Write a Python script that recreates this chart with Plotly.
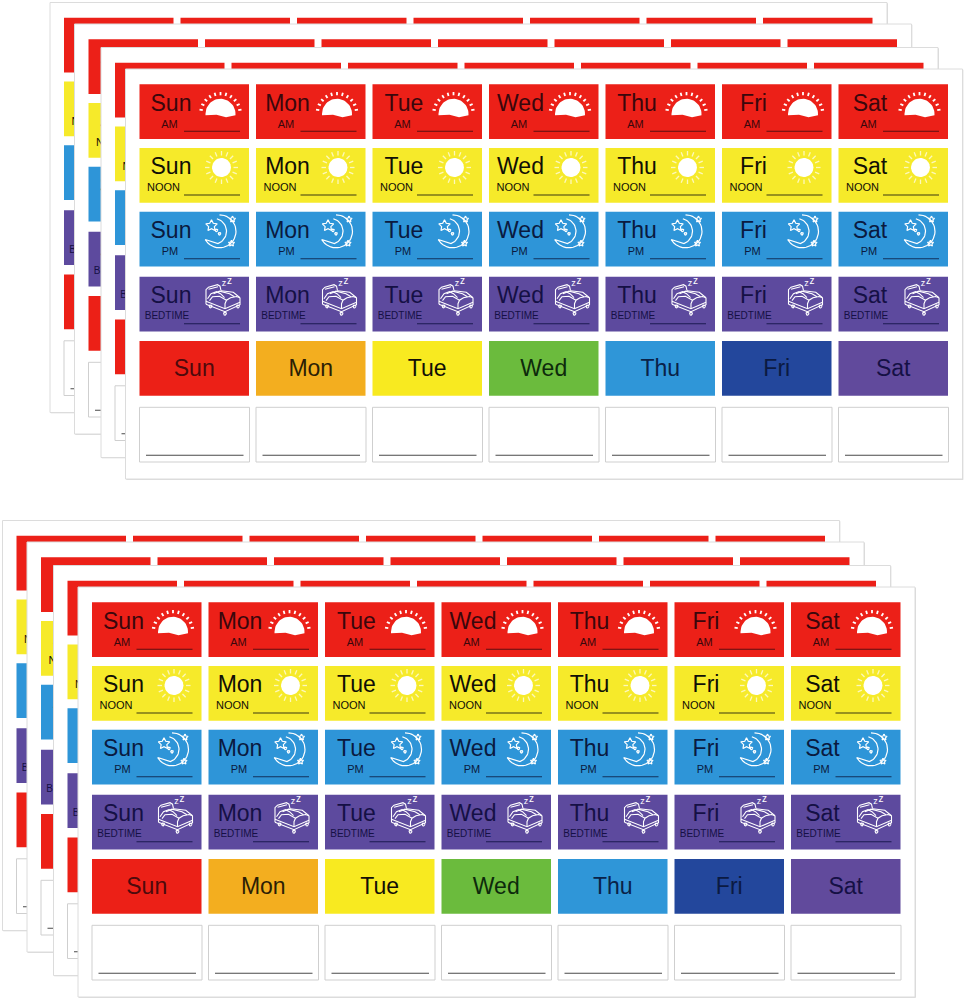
import numpy as np
import plotly.graph_objects as go

# Sticker text
days = ["Sun", "Mon", "Tue", "Wed", "Thu", "Fri", "Sat"]
periods = ["AM", "NOON", "PM", "BEDTIME"]

# Colours of the four dose rows and the plain day row
period_colors = ["#ec2018", "#f6ea2a", "#2e95d8", "#5d4a9e"]
period_text = ["#3a070c", "#100f06", "#0a1a40", "#151045"]
period_line = ["#5c0f10", "#3b3810", "#12325c", "#1d1b52"]
day_colors = ["#ec2017", "#f3ae1f", "#f8ea20", "#6bbb3d", "#2f96d8", "#23479c", "#614a9c"]
day_text = ["#4d0a0c", "#2c1e05", "#120f06", "#0d2a0c", "#0a2248", "#0b1a42", "#151045"]

# Sheet layout, in px (back sheet first)
front_sheets = [(125.5, 69), (78, 587)]
stack_offsets = [(-75.5, -66.5), (-51, -45), (-24.5, -21.5), (0, 0)]
sheet_w, sheet_h = 837, 410
col_x0, col_step = 14, 116.5
row_y = [15.3, 79, 142.7, 207.7, 272, 338.3]
cell_w, cell_h = 109.5, 54.7
label_x = [30, 24, 30.5, 27.5]
label_size = [11, 11, 11, 10]


def rect(x, y, w, h):
    return [x, x + w, x + w, x, x, None], [y, y, y + h, y + h, y, None]


def circle(cx, cy, r, a0=0, a1=360, n=36):
    a = np.radians(np.linspace(a0, a1, n))
    return list(cx + r * np.cos(a)), list(cy + r * np.sin(a))


def star(cx, cy, r):
    a = np.radians(np.arange(-90, 271, 36))
    rr = np.where(np.arange(len(a)) % 2 == 0, r, r * 0.5)
    return list(cx + rr * np.cos(a)), list(cy + rr * np.sin(a))


def join(paths):
    xs, ys = [], []
    for px, py in paths:
        xs += list(px) + [None]
        ys += list(py) + [None]
    return xs, ys


def spokes(cx, cy, r0, r1, angles):
    out = []
    for a in np.radians(angles):
        out.append(([cx + r0 * np.cos(a), cx + r1 * np.cos(a)],
                    [cy + r0 * np.sin(a), cy + r1 * np.sin(a)]))
    return out


def polyline(*pts):
    return [p[0] for p in pts], [p[1] for p in pts]


# Icons, relative to the top left corner of a cell
dome_x, dome_y = circle(81, 29.5, 15, 180, 360, 30)
dome = (dome_x + [96, 86.5, 77, 66], dome_y + [31, 33, 30.5, 31])
sunrise_rays = spokes(81, 29, 18, 21.3, np.arange(-170, -9, 16))
noon_disc = circle(82, 19.5, 9.5)
noon_rays = spokes(82, 19.5, 12, 16.5, np.arange(0, 360, 22.5))

moon_outer_x, moon_outer_y = circle(80, 19.6, 16.5, -90, 150, 30)
moon_inner_x, moon_inner_y = circle(74, 19.6, 13, 70, -75, 24)
moon_lines = [(moon_outer_x + moon_inner_x, moon_outer_y + moon_inner_y),
              star(72, 14, 6), star(93, 7.6, 3.2), star(92, 31.7, 3.2),
              circle(77, 18.6, 1.3, n=10), circle(80, 22, 1.3, n=10)]

bed_lines = [
    polyline((66.5, 27.6), (66.5, 13), (69, 10.5), (78, 8), (80.5, 9.5), (81.5, 14)),
    polyline((69, 12.5), (78.5, 10)),
    polyline((66.5, 24.5), (85.5, 32), (100.5, 25.5)),
    polyline((66.5, 27.6), (85.5, 35), (100.5, 28), (100.5, 21)),
    polyline((85.5, 32), (85.5, 27), (87, 23.5), (91, 21), (97, 19.8), (100.5, 21)),
    polyline((81.5, 14), (93.8, 15.6), (100.5, 21)),
    polyline((68, 22), (71.5, 17), (77, 15), (81, 17), (85, 21)),
    polyline((70, 24), (73, 20), (80, 19.5), (87, 23.5)),
    polyline((74, 17), (80, 14.5), (90, 17), (95, 20)),
    circle(71, 29.6, 1.5, n=10), circle(85.5, 37, 1.5, n=10), circle(98.5, 29.8, 1.5, n=10),
]


def shifted(paths, ox, oy):
    xs, ys = join(paths)
    return ([x + ox if x is not None else None for x in xs],
            [y + oy if y is not None else None for y in ys])


fig = go.Figure()


def add_fill(xs, ys, color, line_color=None, line_width=0):
    fig.add_trace(go.Scatter(x=xs, y=ys, mode="lines", fill="toself", fillcolor=color,
                             line=dict(color=line_color or color, width=line_width),
                             hoverinfo="skip", showlegend=False))


def add_line(xs, ys, color, width):
    fig.add_trace(go.Scatter(x=xs, y=ys, mode="lines", line=dict(color=color, width=width),
                             hoverinfo="skip", showlegend=False))


def add_text(xs, ys, labels, size, colors):
    fig.add_trace(go.Scatter(x=xs, y=ys, mode="text", text=labels, textposition="middle center",
                             textfont=dict(family="Liberation Sans", size=size, color=colors),
                             hoverinfo="skip", showlegend=False))


def draw_sheet(sx, sy, front):
    # soft edge under the sheet, then the paper
    px, py = rect(sx + 0.8, sy + 0.8, sheet_w, sheet_h)
    add_fill(px, py, "#d2d2d2")
    px, py = rect(sx, sy, sheet_w, sheet_h)
    add_fill(px, py, "#ffffff", "#dcdcdc", 1)

    cols = [sx + col_x0 + i * col_step for i in range(len(days))]
    # on a back sheet only the first column of text peeks out past the next sheet
    text_cols = cols if front else cols[:1]
    text_days = days if front else days[:1]

    for r, period in enumerate(periods):
        top = sy + row_y[r]
        paths = [rect(cx, top, cell_w, cell_h) for cx in cols]
        xs, ys = join([(p[0][:-1], p[1][:-1]) for p in paths])
        add_fill(xs, ys, period_colors[r])

        rule = [([cx + 44.5, cx + 100.5], [top + 47, top + 47]) for cx in text_cols]
        xs, ys = join(rule)
        add_line(xs, ys, period_line[r], 1.1)

        add_text([cx + 31.5 for cx in text_cols], [top + 20.5 for cx in text_cols], text_days, 23, period_text[r])
        label_y = top + (39.8 if period == "BEDTIME" else 40.5)
        add_text([cx + label_x[r] for cx in text_cols], [label_y for cx in text_cols],
                 [period] * len(text_cols), label_size[r], period_text[r])

        if not front:
            continue
        for cx in cols:
            if r == 0:
                xs, ys = shifted([dome], cx, top)
                add_fill(xs, ys, "#ffffff")
                xs, ys = shifted(sunrise_rays, cx, top)
                add_line(xs, ys, "#ffffff", 1.8)
            elif r == 1:
                xs, ys = shifted([noon_disc], cx, top)
                add_fill(xs, ys, "#ffffff")
                xs, ys = shifted(noon_rays, cx, top)
                add_line(xs, ys, "#fdf8bc", 1.3)
            elif r == 2:
                xs, ys = shifted(moon_lines, cx, top)
                add_line(xs, ys, "#ffffff", 1.2)
            else:
                xs, ys = shifted(bed_lines, cx, top)
                add_line(xs, ys, "#ffffff", 1.1)
        if r == 3:
            add_text([cx + 84.5 for cx in cols], [top + 7 for cx in cols], ["z"] * len(cols), 9, "#ffffff")
            add_text([cx + 90 for cx in cols], [top + 4.5 for cx in cols], ["z"] * len(cols), 10, "#ffffff")

    # plain day labels
    top = sy + row_y[4]
    for cx, color in zip(cols, day_colors):
        xs, ys = rect(cx, top, cell_w, cell_h)
        add_fill(xs, ys, color)
    if front:
        add_text([cx + cell_w / 2 for cx in cols], [top + 29.5 for cx in cols], days, 23, day_text)

    # blank write-in labels
    top = sy + row_y[5]
    paths = [rect(cx, top, cell_w + 0.5, cell_h) for cx in cols]
    xs, ys = join([(p[0][:-1], p[1][:-1]) for p in paths])
    add_line(xs, ys, "#cfcfcf", 1)
    xs, ys = join([([cx + 6.5, cx + 104], [top + 48, top + 48]) for cx in cols])
    add_line(xs, ys, "#4a4a4a", 1.1)


for fx, fy in front_sheets:
    for i, (dx, dy) in enumerate(stack_offsets):
        draw_sheet(fx + dx, fy + dy, i == len(stack_offsets) - 1)

fig.update_layout(
    width=965, height=1000,
    margin=dict(l=0, r=0, t=0, b=0),
    paper_bgcolor="#ffffff", plot_bgcolor="#ffffff",
    showlegend=False,
    xaxis=dict(range=[0, 965], visible=False, fixedrange=True),
    yaxis=dict(range=[1000, 0], visible=False, fixedrange=True),
)

fig.write_html("out.html", config={"displayModeBar": False},
               post_script="document.body.style.margin='0';")
